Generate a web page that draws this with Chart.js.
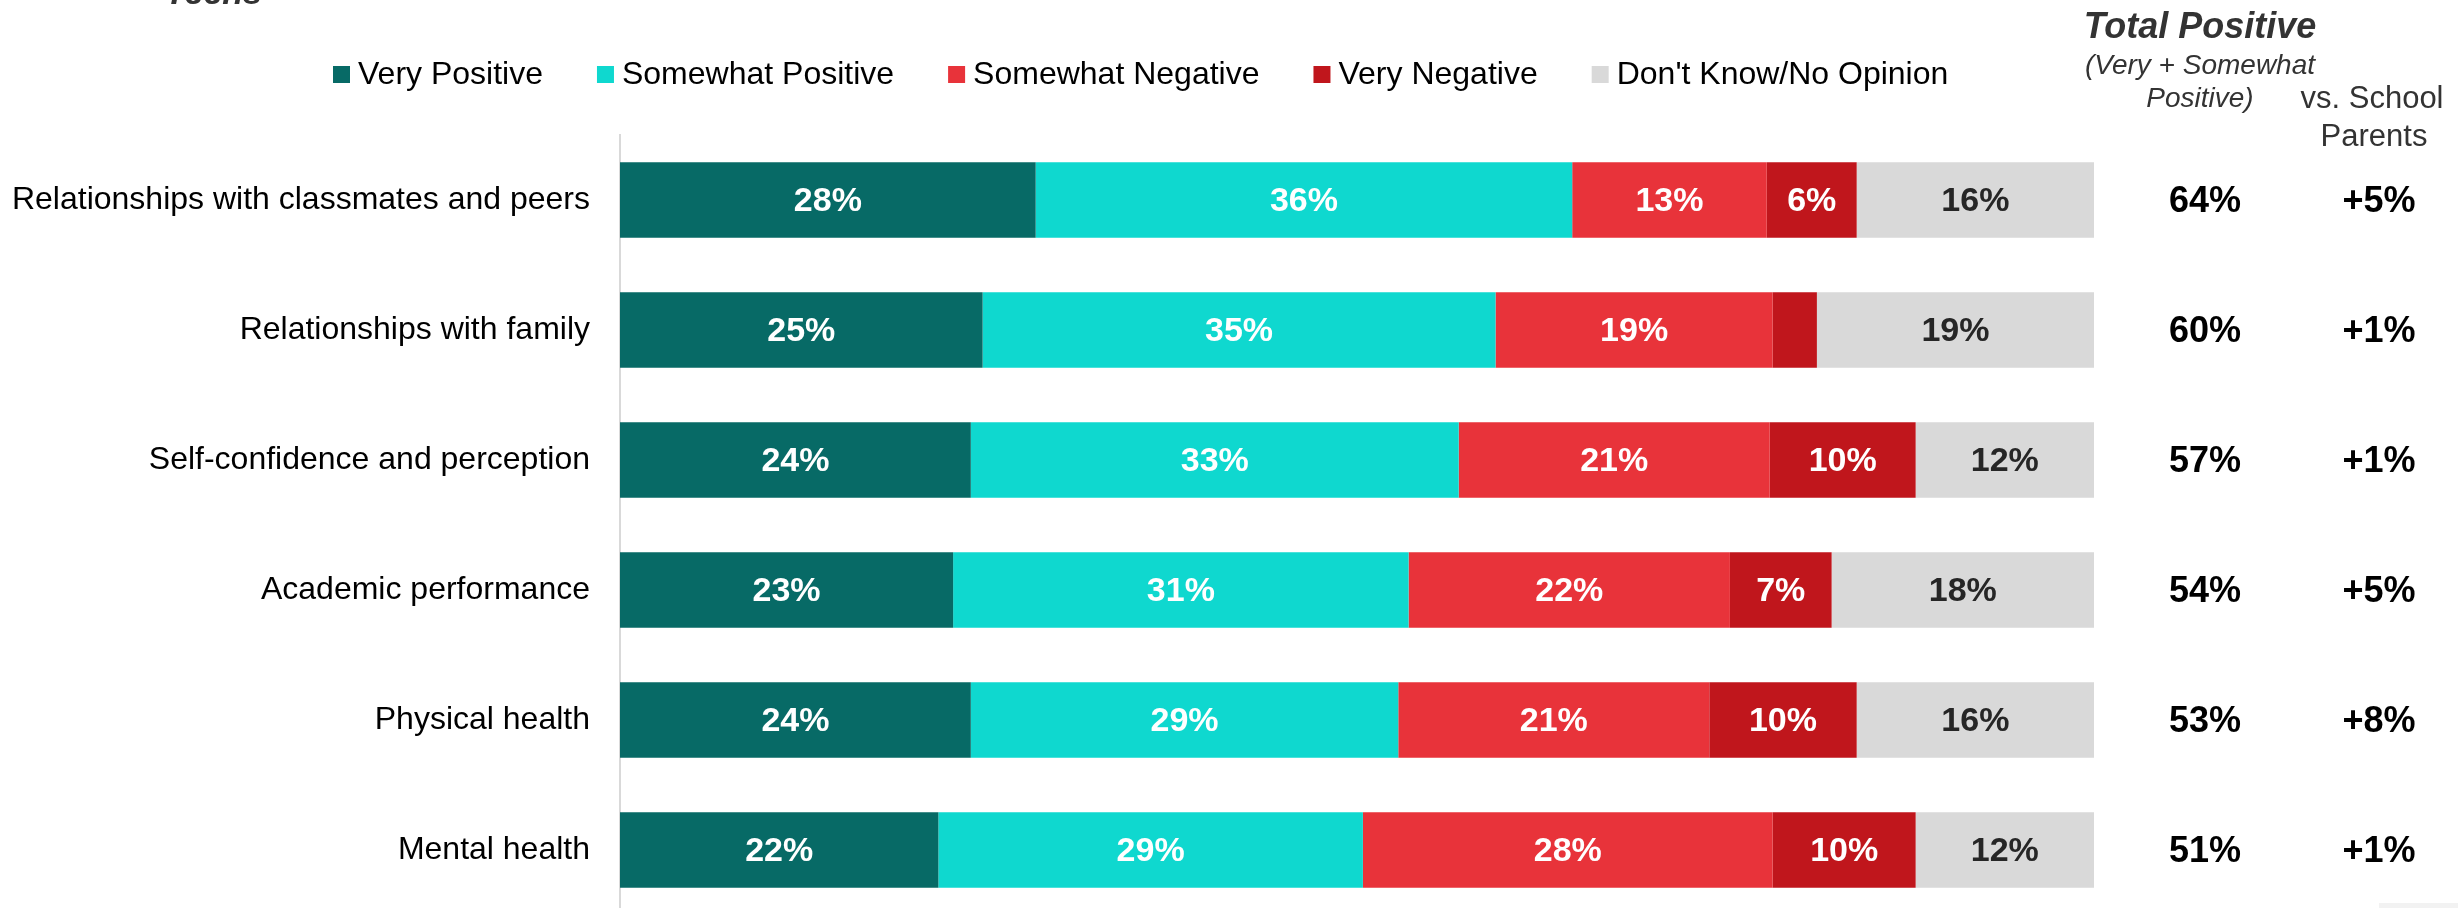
<!DOCTYPE html>
<html>
<head>
<meta charset="utf-8">
<script src="https://cdn.jsdelivr.net/npm/chart.js@4.4.0/dist/chart.umd.min.js"></script>
<style>
  html, body { margin: 0; padding: 0; background: #fff; overflow: hidden; }
  #wrap { width: 2458px; height: 920px; position: relative; }
</style>
</head>
<body>
<div id="wrap"><canvas id="c" width="2458" height="920"></canvas></div>
<script>
const categories = [
  'Relationships with classmates and peers',
  'Relationships with family',
  'Self-confidence and perception',
  'Academic performance',
  'Physical health',
  'Mental health'
];
const seriesNames = ['Very Positive', 'Somewhat Positive', 'Somewhat Negative', 'Very Negative', "Don't Know/No Opinion"];
const veryPositive     = [28.2, 24.6, 23.8, 22.6, 23.8, 21.6];
const somewhatPositive = [36.4, 34.8, 33.1, 30.9, 29.0, 28.8];
const somewhatNegative = [13.2, 18.8, 21.1, 21.8, 21.1, 27.8];
const veryNegative     = [6.1, 3.0, 9.9, 6.9, 10.0, 9.7];
const dontKnow         = [16.1, 18.8, 12.1, 17.8, 16.1, 12.1];
const totalPositive    = [64, 60, 57, 54, 53, 51];
const vsSchoolParents  = [5, 1, 1, 5, 8, 1];
const titleText = 'Teens';

const colors = ['#076A66', '#0FD8CF', '#E8333A', '#C0161C', '#D9D9D9'];
const labelColors = ['#FFFFFF', '#FFFFFF', '#FFFFFF', '#FFFFFF', '#262626'];
const FONT = '"Liberation Sans", Arial, Helvetica, sans-serif';
const seriesData = [veryPositive, somewhatPositive, somewhatNegative, veryNegative, dontKnow];

const datasets = seriesNames.map((name, i) => ({
  label: name,
  data: seriesData[i],
  backgroundColor: colors[i],
  borderWidth: 0,
  stack: 's',
  categoryPercentage: 1.0,
  barPercentage: 0.58
}));

const overlayPlugin = {
  id: 'overlay',
  afterDatasetsDraw(chart) {
    const ctx = chart.ctx;
    ctx.save();
    ctx.font = 'bold 34px ' + FONT;
    ctx.textAlign = 'center';
    ctx.textBaseline = 'middle';
    chart.data.datasets.forEach((ds, di) => {
      const meta = chart.getDatasetMeta(di);
      meta.data.forEach((el, i) => {
        const v = ds.data[i];
        if (v < 4) return;
        const cx = (el.x + el.base) / 2;
        ctx.fillStyle = labelColors[di];
        ctx.fillText(Math.round(v) + '%', cx, el.y + 2);
      });
    });
    ctx.restore();
  },
  afterDraw(chart) {
    const ctx = chart.ctx;
    const yScale = chart.scales.y;
    ctx.save();
    // cut-off title
    ctx.font = 'bold italic 34px ' + FONT;
    ctx.fillStyle = '#333333';
    ctx.textAlign = 'left';
    ctx.textBaseline = 'alphabetic';
    ctx.fillText(titleText, 165, 4);

    // legend
    ctx.font = '32px ' + FONT;
    ctx.textBaseline = 'middle';
    let x = 333;
    const ly = 74;
    seriesNames.forEach((name, i) => {
      ctx.fillStyle = colors[i];
      ctx.fillRect(x, ly - 8, 17, 17);
      ctx.fillStyle = '#000000';
      ctx.fillText(name, x + 25, ly + 1);
      x += 25 + ctx.measureText(name).width + 54;
    });

    // right headers
    ctx.textAlign = 'center';
    ctx.textBaseline = 'alphabetic';
    ctx.fillStyle = '#333333';
    ctx.font = 'bold italic 36px ' + FONT;
    ctx.fillText('Total Positive', 2200, 38);
    ctx.font = 'italic 28px ' + FONT;
    ctx.fillText('(Very + Somewhat', 2200, 74);
    ctx.fillText('Positive)', 2200, 107);
    ctx.font = '31px ' + FONT;
    ctx.fillText('vs. School', 2372, 108);
    ctx.fillText('Parents', 2374, 146);

    // right value columns
    ctx.font = 'bold 36px ' + FONT;
    ctx.fillStyle = '#000000';
    ctx.textBaseline = 'middle';
    categories.forEach((c, i) => {
      const y = yScale.getPixelForValue(i);
      ctx.fillText(totalPositive[i] + '%', 2205, y + 2);
      ctx.fillText('+' + vsSchoolParents[i] + '%', 2379, y + 2);
    });

    // faint slide element at bottom-right corner
    ctx.fillStyle = '#F2F2F2';
    ctx.fillRect(2379, 903, 79, 5);
    ctx.restore();
  }
};

new Chart(document.getElementById('c'), {
  type: 'bar',
  data: { labels: categories, datasets },
  options: {
    indexAxis: 'y',
    responsive: false,
    animation: false,
    layout: { padding: { left: 0, right: 364, top: 135, bottom: 5 } },
    plugins: { legend: { display: false }, tooltip: { enabled: false }, title: { display: false } },
    scales: {
      x: { stacked: true, min: 0, max: 100, display: false },
      y: {
        stacked: true,
        grid: { display: false, drawTicks: false },
        border: { display: true, color: '#D9D9D9', width: 2 },
        ticks: { padding: 30, color: '#000000', font: { family: FONT, size: 32 } },
        afterFit(scale) { scale.width = 620; scale.paddingTop = 0; scale.paddingBottom = 0; }
      }
    }
  },
  plugins: [overlayPlugin]
});
</script>
</body>
</html>
